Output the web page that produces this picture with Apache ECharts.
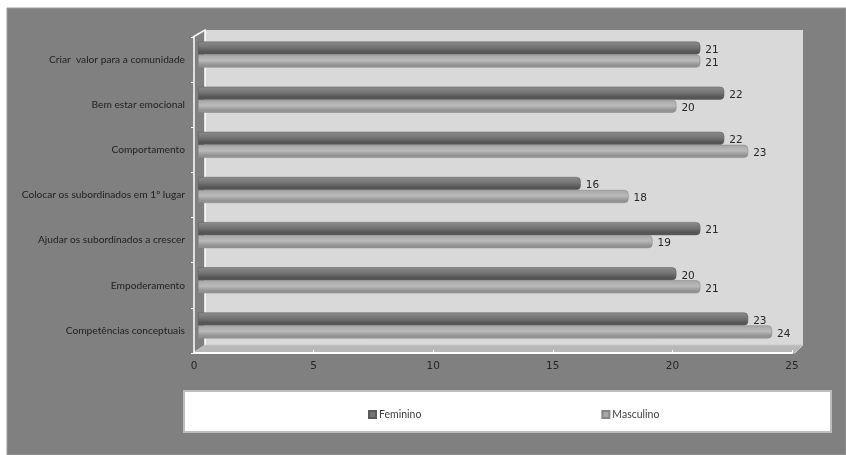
<!DOCTYPE html>
<html>
<head>
<meta charset="utf-8">
<script src="https://cdn.jsdelivr.net/npm/echarts@6/dist/echarts.min.js"></script>
<style>
  html, body { margin: 0; padding: 0; background: #ffffff; }
  #chart { width: 846px; height: 455px; }
</style>
</head>
<body>
<div id="chart"></div>
<script>
// Categories listed bottom to top (category axis starts at the bottom)
const categories = [
  'Competências conceptuais',
  'Empoderamento',
  'Ajudar os subordinados a crescer',
  'Colocar os subordinados em 1º lugar',
  'Comportamento',
  'Bem estar emocional',
  'Criar  valor para a comunidade'
];
const feminino = [23, 20, 21, 16, 22, 22, 21];
const masculino = [24, 21, 19, 18, 23, 20, 21];
const xTicks = { min: 0, max: 25, interval: 5 };

const chart = echarts.init(document.getElementById('chart'));

const font = 'Lato, "Open Sans", sans-serif';
const numFont = '"DejaVu Sans", sans-serif';

// cylinder-like shading for each bar family
function shade(top, mid, bottom) {
  return new echarts.graphic.LinearGradient(0, 0, 0, 1, [
    { offset: 0, color: top },
    { offset: 0.45, color: mid },
    { offset: 0.8, color: bottom },
    { offset: 1, color: bottom }
  ]);
}

const labelStyle = {
  show: true,
  position: 'right',
  distance: 5,
  color: '#262626',
  fontSize: 10.5,
  fontFamily: numFont,
  offset: [0, 2]
};

chart.setOption({
  animation: false,
  backgroundColor: '#ffffff',
  graphic: [
    // chart panel
    { type: 'rect', z: -20, shape: { x: 7, y: 8, width: 839, height: 447 },
      style: { fill: '#808080', stroke: '#9a9a9a', lineWidth: 1 } },
    // back wall
    { type: 'rect', z: -10, shape: { x: 205, y: 30, width: 598, height: 315 },
      style: { fill: '#d9d9d9' } },
    // floor
    { type: 'polygon', z: -10,
      shape: { points: [[193, 353], [205, 345], [803, 345], [795, 353]] },
      style: { fill: '#b8b8b8', stroke: '#c8c8c8', lineWidth: 1 } },
    // left wall edges
    { type: 'polyline', z: -9,
      shape: { points: [[193, 37], [205, 30], [205, 345]] },
      style: { stroke: '#ffffff', lineWidth: 1.5, fill: null } },
    // legend frame
    { type: 'rect', z: -5, shape: { x: 184, y: 391, width: 647, height: 41 },
      style: { fill: '#ffffff', stroke: '#bdbdbd', lineWidth: 2 } }
  ],
  legend: {
    left: 363,
    top: 404,
    itemWidth: 7,
    itemHeight: 7,
    itemGap: 180,
    icon: 'rect',
    textStyle: { color: '#404040', fontSize: 10.5, fontFamily: font, padding: [0, 0, 0, -2] },
    data: [
      { name: 'Feminino', itemStyle: { color: '#737373' } },
      { name: 'Masculino', itemStyle: { color: '#a8a8a8' } }
    ]
  },
  grid: [
    // visible axes (front edge of the box)
    { left: 194, top: 37, width: 598, height: 316 },
    // bars, set back in depth
    { left: 198, top: 32, width: 598, height: 316 }
  ],
  xAxis: [
    {
      gridIndex: 0, type: 'value', min: xTicks.min, max: xTicks.max, interval: xTicks.interval,
      axisLine: { show: true, lineStyle: { color: '#ffffff', width: 2 } },
      axisTick: { show: true, length: 3, inside: true, lineStyle: { color: '#ffffff' } },
      axisLabel: { color: '#262626', fontSize: 10.5, fontFamily: numFont, margin: 8 },
      splitLine: { show: false }
    },
    { gridIndex: 1, type: 'value', min: xTicks.min, max: xTicks.max, show: false, splitLine: { show: false } }
  ],
  yAxis: [
    {
      gridIndex: 0, type: 'category', data: categories,
      axisLine: { show: true, lineStyle: { color: '#ffffff', width: 1.5 } },
      axisTick: { show: true, length: 3, lineStyle: { color: '#ffffff' } },
      axisLabel: { color: '#222222', fontSize: 10.2, fontFamily: font, margin: 9 }
    },
    { gridIndex: 1, type: 'category', data: categories, show: false }
  ],
  series: [
    {
      name: 'Feminino', type: 'bar', xAxisIndex: 1, yAxisIndex: 1,
      data: feminino, barWidth: 13, barGap: '0%',
      itemStyle: {
        color: shade('#8c8c8c', '#747474', '#555555'),
        borderColor: '#5a5a5a', borderWidth: 0.5,
        borderRadius: [0, 4, 4, 0]
      },
      label: labelStyle
    },
    {
      name: 'Masculino', type: 'bar', xAxisIndex: 1, yAxisIndex: 1,
      data: masculino, barWidth: 13, barGap: '0%',
      itemStyle: {
        color: shade('#a6a6a6', '#bababa', '#939393'),
        borderColor: '#858585', borderWidth: 0.5,
        borderRadius: [0, 4, 4, 0]
      },
      label: labelStyle
    }
  ]
});
</script>
</body>
</html>
